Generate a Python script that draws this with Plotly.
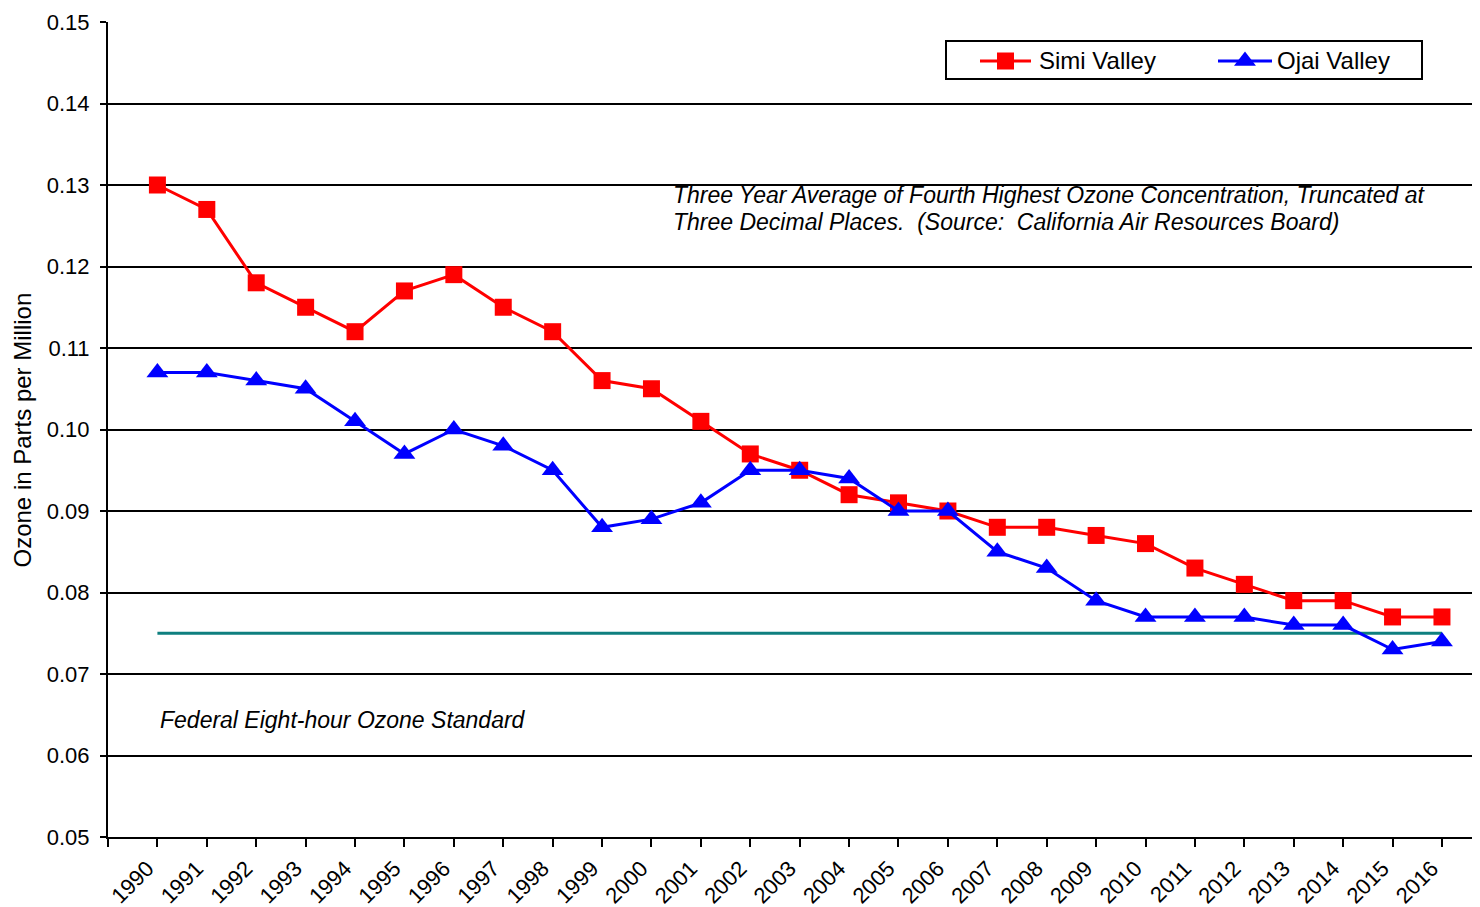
import plotly.graph_objects as go

years = [str(y) for y in range(1990, 2017)]
simi = [0.130, 0.127, 0.118, 0.115, 0.112, 0.117, 0.119, 0.115, 0.112, 0.106,
        0.105, 0.101, 0.097, 0.095, 0.092, 0.091, 0.090, 0.088, 0.088, 0.087,
        0.086, 0.083, 0.081, 0.079, 0.079, 0.077, 0.077]
ojai = [0.107, 0.107, 0.106, 0.105, 0.101, 0.097, 0.100, 0.098, 0.095, 0.088,
        0.089, 0.091, 0.095, 0.095, 0.094, 0.090, 0.090, 0.085, 0.083, 0.079,
        0.077, 0.077, 0.077, 0.076, 0.076, 0.073, 0.074]
standard = 0.075
y_ticks = [0.05, 0.06, 0.07, 0.08, 0.09, 0.10, 0.11, 0.12, 0.13, 0.14, 0.15]
series_names = ["Simi Valley", "Ojai Valley"]

xi = list(range(len(years)))
font = "Liberation Sans, Arial, sans-serif"

# page body has an 8px margin; plot area target (screen px): x 108..1480, y 22..837
PL, PT, PW, PH = 108, 22, 1372, 815
def px(x):
    return (x - PL) / PW
def py(y):
    return 1 - (y - PT) / PH

SIMI_C, OJAI_C = "#FF0000", "#0000FF"

fig = go.Figure()
fig.add_trace(go.Scatter(
    x=[xi[0], xi[-1]], y=[standard, standard], mode="lines",
    line=dict(color="#0E7F7F", width=3), showlegend=False, hoverinfo="skip"))
fig.add_trace(go.Scatter(
    x=xi, y=simi, mode="lines+markers", name=series_names[0], showlegend=False,
    line=dict(color=SIMI_C, width=3),
    marker=dict(symbol="square", size=17, color=SIMI_C)))
fig.add_trace(go.Scatter(
    x=xi, y=ojai, mode="lines+markers", name=series_names[1], showlegend=False,
    line=dict(color=OJAI_C, width=3),
    marker=dict(symbol="triangle-up", size=19, color=OJAI_C)))

# legend keys drawn on an overlay axis measured in screen pixels
LEG_Y = 61
for (x0, x1, sym, size, col) in [(980, 1031, "square", 17, SIMI_C),
                                 (1218, 1272, "triangle-up", 19, OJAI_C)]:
    fig.add_trace(go.Scatter(
        x=[x0, x1], y=[LEG_Y, LEG_Y], mode="lines", xaxis="x2", yaxis="y2",
        line=dict(color=col, width=3), showlegend=False, hoverinfo="skip"))
    fig.add_trace(go.Scatter(
        x=[(x0 + x1) / 2], y=[LEG_Y], mode="markers", xaxis="x2", yaxis="y2",
        marker=dict(symbol=sym, size=size, color=col),
        showlegend=False, hoverinfo="skip"))

fig.update_layout(
    width=1472, height=899,
    margin=dict(l=100, r=0, t=14, b=70),
    paper_bgcolor="white", plot_bgcolor="white",
    font=dict(family=font, size=21, color="black"),
    showlegend=False,
    xaxis=dict(
        range=[-1, 26.77],
        tickmode="array", tickvals=[-1] + xi, ticktext=[""] + years,
        tickangle=-45, ticks="outside", ticklen=8, tickwidth=2,
        tickcolor="black", showgrid=False,
        showline=True, linecolor="black", linewidth=2,
        tickfont=dict(family=font, size=22, color="black"),
        ticklabelstandoff=0, ticklabelshift=-10,
        zeroline=False, automargin=False,
    ),
    yaxis=dict(
        range=[0.05, 0.15],
        tickmode="array", tickvals=y_ticks,
        ticktext=[f"{v:.2f}" for v in y_ticks],
        ticks="outside", ticklen=6, tickwidth=2, tickcolor="black",
        showgrid=True, gridcolor="black", gridwidth=2,
        showline=True, linecolor="black", linewidth=2,
        zeroline=False, automargin=False,
        ticklabelstandoff=6,
        tickfont=dict(family=font, size=22, color="black"),
    ),
    xaxis2=dict(overlaying="x", range=[PL, PL + PW], visible=False,
                fixedrange=True),
    yaxis2=dict(overlaying="y", range=[PT + PH, PT], visible=False,
                fixedrange=True),
    shapes=[dict(type="rect", xref="paper", yref="paper",
                 x0=px(946), x1=px(1422), y0=py(79), y1=py(41),
                 line=dict(color="black", width=2), fillcolor="white",
                 layer="below")],
)

fig.add_annotation(
    xref="paper", yref="paper", x=px(1037), y=py(LEG_Y),
    xanchor="left", yanchor="middle", showarrow=False,
    text=series_names[0], font=dict(family=font, size=24, color="black"))
fig.add_annotation(
    xref="paper", yref="paper", x=px(1275), y=py(LEG_Y),
    xanchor="left", yanchor="middle", showarrow=False,
    text=series_names[1], font=dict(family=font, size=24, color="black"))
fig.add_annotation(
    xref="paper", yref="paper", x=px(22), y=0.5,
    xanchor="center", yanchor="middle", showarrow=False, textangle=-90,
    text="Ozone in Parts per Million",
    font=dict(family=font, size=24, color="black"))
note_lines = ["Three Year Average of Fourth Highest Ozone Concentration, Truncated at",
              "Three Decimal Places.  (Source:  California Air Resources Board)"]
for line, yy in zip(note_lines, [195, 222]):
    fig.add_annotation(
        xref="paper", yref="paper", x=px(671), y=py(yy),
        xanchor="left", yanchor="middle", showarrow=False, align="left",
        text=f"<i>{line}</i>",
        font=dict(family=font, size=23, color="black"))
fig.add_annotation(
    xref="paper", yref="paper", x=px(158), y=py(720),
    xanchor="left", yanchor="middle", showarrow=False,
    text="<i>Federal Eight-hour Ozone Standard</i>",
    font=dict(family=font, size=23, color="black"))

fig.write_html("out.html")
